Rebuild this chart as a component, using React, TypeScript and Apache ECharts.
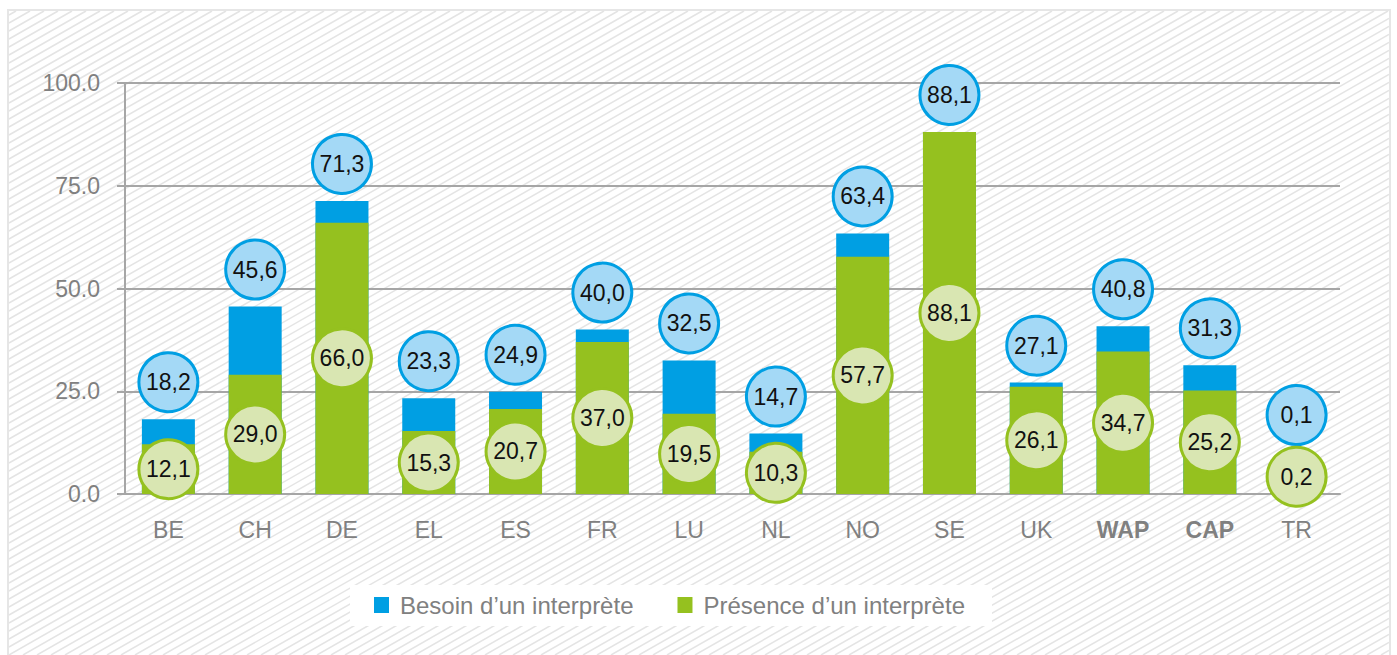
import React, { useEffect, useRef } from "react";
import * as echarts from "echarts";

const categories = ["BE", "CH", "DE", "EL", "ES", "FR", "LU", "NL", "NO", "SE", "UK", "WAP", "CAP", "TR"];
const boldCategories = ["WAP", "CAP"];
const besoin = [18.2, 45.6, 71.3, 23.3, 24.9, 40.0, 32.5, 14.7, 63.4, 88.1, 27.1, 40.8, 31.3, 0.1];
const presence = [12.1, 29.0, 66.0, 15.3, 20.7, 37.0, 19.5, 10.3, 57.7, 88.1, 26.1, 34.7, 25.2, 0.2];
const yTicks = { min: 0, max: 100, interval: 25 };
const seriesNames = ["Besoin d’un interprète", "Présence d’un interprète"];

const W = 1397;
const H = 655;
const FONT = "'Liberation Sans', Arial, Helvetica, sans-serif";

function fmt(v: number) {
  return v.toFixed(1).replace(".", ",");
}

function hatchLines() {
  const x0 = 9, x1 = 1389, y0 = 11, y1 = H;
  const m = 8 / 14;
  const out: any[] = [];
  const cStart = y0 + m * x0;
  const cEnd = y1 + m * x1;
  for (let c = cStart - 4; c <= cEnd + 8; c += 8) {
    const xa = Math.max(x0, (c - y1) / m);
    const xb = Math.min(x1, (c - y0) / m);
    if (xb <= xa) continue;
    out.push({
      type: "line",
      z: -10,
      silent: true,
      shape: { x1: xa, y1: c - m * xa, x2: xb, y2: c - m * xb },
      style: { stroke: "#e4e4e4", lineWidth: 1.5 },
    });
  }
  return out;
}

export default function App() {
  const ref = useRef<HTMLDivElement>(null);
  useEffect(() => {
    if (!ref.current) return;
    const chart = echarts.init(ref.current, null, { renderer: "svg" });
    const greenPos = presence.map((g) => Math.max(g / 2, 4.2));
    const bluePos = besoin.map((b, i) => Math.max(b + 9, greenPos[i] + 15));
    const circleLabel = {
      show: true,
      position: "inside",
      fontFamily: FONT,
      fontSize: 23,
      color: "#111111",
    };
    chart.setOption({
      animation: false,
      backgroundColor: "#ffffff",
      textStyle: { fontFamily: FONT },
      graphic: [
        {
          type: "rect",
          z: -11,
          silent: true,
          shape: { x: 8, y: 10, width: 1382, height: 660 },
          style: { fill: "#ffffff", stroke: "#e6e6e6", lineWidth: 2 },
        },
        ...hatchLines(),
        {
          type: "rect",
          z: -9,
          silent: true,
          shape: { x: 350, y: 585, width: 642, height: 41 },
          style: { fill: "#ffffff" },
        },
      ],
      grid: { left: 125, right: 57, top: 83, bottom: 161, containLabel: false },
      legend: {
        left: 374,
        top: 593,
        padding: 0,
        itemWidth: 15,
        itemHeight: 16,
        itemGap: 44,
        icon: "rect",
        data: seriesNames,
        textStyle: { color: "#808080", fontSize: 24, fontFamily: FONT, padding: [0, 0, 0, 6] },
      },
      xAxis: {
        type: "category",
        data: categories.map((c) =>
          boldCategories.includes(c) ? { value: c, textStyle: { fontWeight: "bold" } } : c
        ),
        axisLine: { show: true, lineStyle: { color: "#a6a6a6", width: 2 } },
        axisTick: { show: false },
        axisLabel: { color: "#808080", fontSize: 23, fontFamily: FONT, margin: 24 },
      },
      yAxis: {
        type: "value",
        min: yTicks.min,
        max: yTicks.max,
        interval: yTicks.interval,
        axisLine: { show: true, lineStyle: { color: "#a6a6a6", width: 2 } },
        axisTick: { show: true, length: 8, lineStyle: { color: "#a6a6a6", width: 2 } },
        splitLine: { show: true, lineStyle: { color: "#a6a6a6", width: 2 } },
        axisLabel: {
          color: "#808080",
          fontSize: 23,
          fontFamily: FONT,
          margin: 25,
          formatter: (v: number) => v.toFixed(1),
        },
      },
      series: [
        {
          name: seriesNames[0],
          type: "bar",
          data: besoin,
          barWidth: 53,
          barGap: "-100%",
          itemStyle: { color: "#009fe3" },
          z: 2,
        },
        {
          name: seriesNames[1],
          type: "bar",
          data: presence,
          barWidth: 53,
          barGap: "-100%",
          itemStyle: { color: "#95c11f" },
          z: 3,
        },
        {
          name: "besoinLabels",
          type: "scatter",
          data: bluePos.map((y, i) => [i, y]),
          symbol: "circle",
          symbolSize: 59,
          itemStyle: { color: "#a4d9f6", borderColor: "#009fe3", borderWidth: 3, opacity: 1 },
          label: { ...circleLabel, formatter: (p: any) => fmt(besoin[p.dataIndex]) },
          z: 5,
        },
        {
          name: "presenceLabels",
          type: "scatter",
          data: greenPos.map((y, i) => [i, y]),
          symbol: "circle",
          symbolSize: 59,
          itemStyle: { color: "#d9e6b2", borderColor: "#95c11f", borderWidth: 3, opacity: 1 },
          label: { ...circleLabel, formatter: (p: any) => fmt(presence[p.dataIndex]) },
          z: 6,
        },
      ],
    });
    return () => chart.dispose();
  }, []);
  return (
    <div
      ref={ref}
      style={{ position: "absolute", left: 0, top: 0, width: W, height: H }}
    />
  );
}
